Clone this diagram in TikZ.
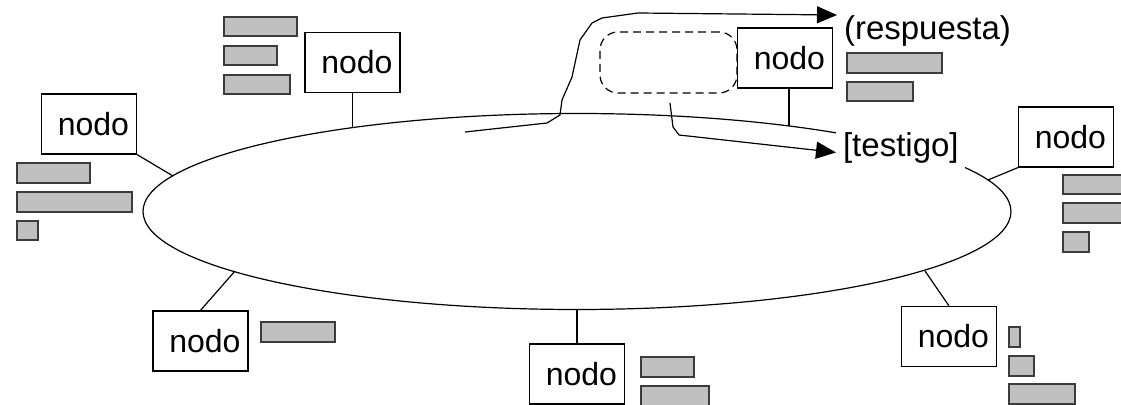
\documentclass[tikz,border=0pt]{standalone}
\usepackage{fontspec}
\setmainfont{Liberation Sans}
\usetikzlibrary{arrows.meta}
\definecolor{grisbarra}{RGB}{192,192,192}
\definecolor{grisborde}{RGB}{60,60,60}
\tikzset{
  nodo/.style={draw,fill=white,line width=0.6pt,text width=40pt,align=right,inner xsep=3.75pt,minimum height=30pt},
  barra/.style={draw=grisborde,fill=grisbarra,line width=0.6pt},
  enlace/.style={line width=0.6pt},
  etiqueta/.style={font=\fontsize{16.5}{19}\selectfont,anchor=base west},
  flecha/.style={line width=0.6pt,-{Triangle[length=10pt,width=8.5pt]}},
  ventana/.style={draw,dashed,dash pattern=on 4pt off 2.5pt,rounded corners=9pt,line width=0.6pt,minimum width=68.5pt,minimum height=30.5pt},
}
\begin{document}
\begin{tikzpicture}[x=0.5pt,y=-0.5pt,font=\fontsize{16}{19}\selectfont]
                    \useasboundingbox (0,0) rectangle (1121,405);
                    % anillo
                    \draw[enlace] (577,211.5) ellipse [x radius=217pt, y radius=49pt];
                    \coordinate (pA) at (352.5,127.5);
                    \coordinate (pB) at (173,176);
                    \coordinate (pC) at (988,180);
                    \coordinate (pD) at (925,271);
                    \coordinate (pE) at (577,309.5);
                    \coordinate (pF) at (235,271);
                    \coordinate (pG) at (789,126);
                    % testigo y respuesta
                    \node[ventana] (hueco) at (668.5,62.5) {};
                    \node[etiqueta,fill=white] (testigo) at (836,157) {[testigo]};
                    \node[etiqueta] (respuesta) at (837,40) {(respuesta)};
                    \coordinate (salida) at (465,132);
                    \coordinate (inicio) at (670,103);
                    \draw[flecha] (salida) -- (547,123) -- (560,115) -- (562,100) -- (572,77) -- (580,40) -- (592,23) -- (602,18) -- (638,13) -- ([yshift=-3pt]respuesta.north west);
                    \draw[flecha] (inicio) -- (673,127) -- (679,135) -- ([yshift=-2pt]testigo.west);
                    % nodos
                    \node[nodo] (nA) at (352.5,62.5) {nodo};
                    \node[nodo] (nB) at (89,124) {nodo};
                    \node[nodo] (nC) at (1066,137) {nodo};
                    \node[nodo] (nD) at (949,336.5) {nodo};
                    \node[nodo] (nE) at (577,374) {nodo};
                    \node[nodo] (nF) at (200.5,341) {nodo};
                    \node[nodo] (nG) at (785,58) {nodo};
                    \draw[enlace] (nA.south) -- (pA);
                    \draw[enlace] (nB.south east) -- (pB);
                    \draw[enlace] (nC.south west) -- (pC);
                    \draw[enlace] (nD.north) -- (pD);
                    \draw[enlace] (nE.north) -- (pE);
                    \draw[enlace] (nF.north) -- (pF);
                    \draw[enlace] (pG |- nG.south) -- (pG);
                    % colas
                    \draw[barra] (224,17) rectangle (297,36);
                    \draw[barra] (224,46) rectangle (277,65);
                    \draw[barra] (224,75) rectangle (290,94);
                    \draw[barra] (17,163) rectangle (90,183);
                    \draw[barra] (17,192) rectangle (132,212);
                    \draw[barra] (17,221) rectangle (38,240);
                    \draw[barra] (1063,175) rectangle (1130,194);
                    \draw[barra] (1063,203) rectangle (1130,223);
                    \draw[barra] (1063,232) rectangle (1089,252);
                    \draw[barra] (1009,327) rectangle (1020,347);
                    \draw[barra] (1009,356) rectangle (1034,376);
                    \draw[barra] (1009,384) rectangle (1075,404);
                    \draw[barra] (641,357) rectangle (694,377);
                    \draw[barra] (641,386) rectangle (709,412);
                    \draw[barra] (261,322) rectangle (335,342);
                    \draw[barra] (847,53) rectangle (942,73);
                    \draw[barra] (847,82) rectangle (913,101);
                \end{tikzpicture}
\end{document}
